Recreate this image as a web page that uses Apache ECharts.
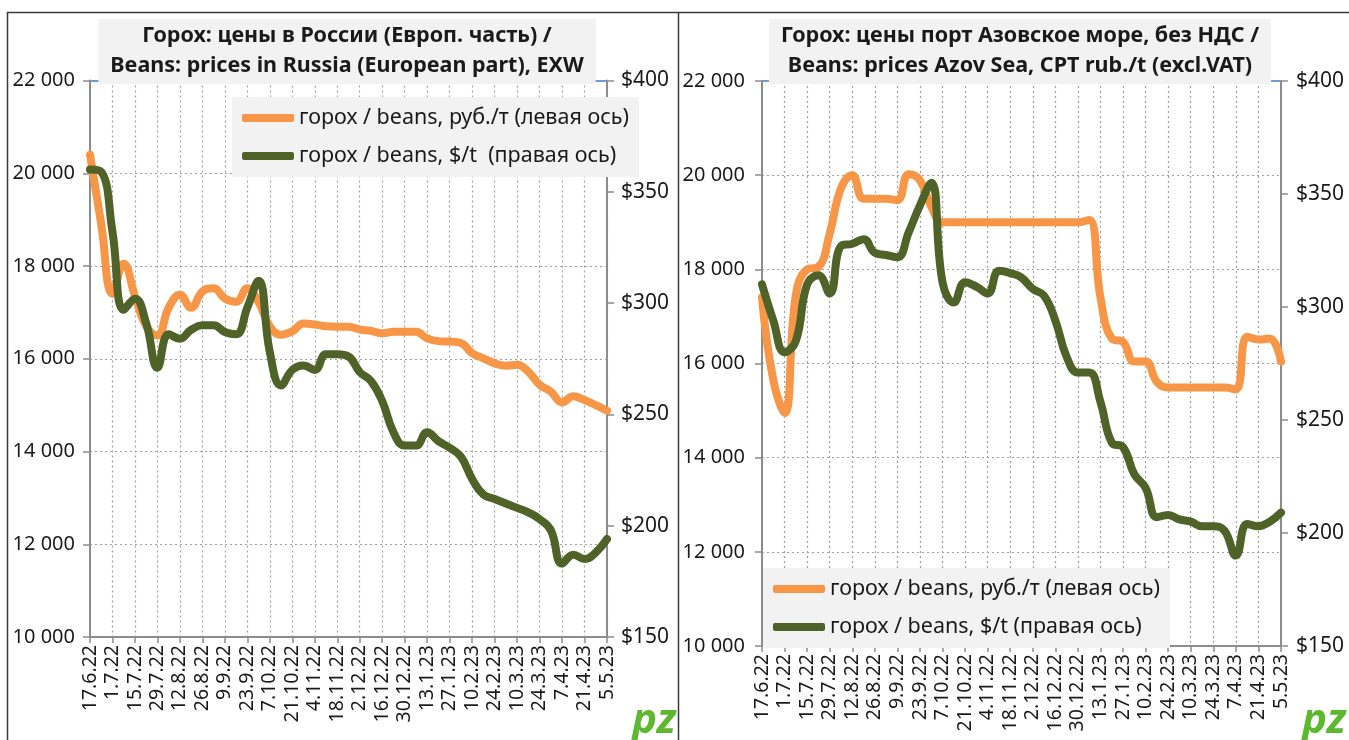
<!DOCTYPE html>
<html>
<head>
<meta charset="utf-8">
<script src="https://cdn.jsdelivr.net/npm/echarts@6/dist/echarts.min.js"></script>
<style>
html,body{margin:0;padding:0;background:#fff;}
#chart{width:1349px;height:740px;}
</style>
</head>
<body>
<div id="chart"></div>
<script>
const dates = ['17.6.22','24.6.22','1.7.22','8.7.22','15.7.22','22.7.22','29.7.22','5.8.22','12.8.22','19.8.22','26.8.22','2.9.22','9.9.22','16.9.22','23.9.22','30.9.22','7.10.22','14.10.22','21.10.22','28.10.22','4.11.22','11.11.22','18.11.22','25.11.22','2.12.22','9.12.22','16.12.22','23.12.22','30.12.22','6.1.23','13.1.23','20.1.23','27.1.23','3.2.23','10.2.23','17.2.23','24.2.23','3.3.23','10.3.23','17.3.23','24.3.23','31.3.23','7.4.23','14.4.23','21.4.23','28.4.23','5.5.23'];

const russiaRub = [20400,18900,17400,18050,17350,16700,16500,17100,17380,17100,17450,17520,17300,17230,17520,17220,16700,16520,16590,16760,16740,16700,16690,16690,16630,16600,16550,16580,16580,16580,16440,16380,16370,16340,16120,16010,15900,15850,15870,15720,15440,15290,15060,15190,15110,15000,14880];
const russiaUsd = [360,359,332,297,302,291,271,286,284,288,290,290,287,286,298,310,278,263,270,272,270,277,277,276,269,265,256,242,236,236,242,238,235,231,221,214,212,210,208,206,203,198,183,187,185,188,194];

const azovRub = [17400,15650,14950,17450,18000,18050,18760,19720,20000,19500,19500,19500,19470,20020,19890,19330,19000,19000,19000,19000,19000,19000,19000,19000,19000,19000,19000,19000,19000,19050,17400,16530,16460,16040,16040,15610,15490,15490,15490,15490,15490,15490,15450,16570,16510,16530,16040];
const azovUsd = [310,294,280,285,310,314,306,327,328,330,324,323,322,333,345,355,311,302,311,309,306,316,315,313,308,305,294,278,271,271,258,240,238,226,220,207,208,206,205,203,203,201,190,204,203,205,209];

const titleLeft = 'Горох: цены в России (Европ. часть) /\nBeans: prices in Russia (European part), EXW';
const titleRight = 'Горох: цены порт Азовское море, без НДС /\nBeans: prices Azov Sea, CPT rub./t (excl.VAT)';
const nameRub = 'горох / beans, руб./т (левая ось)';
const nameUsdLeft = 'горох / beans, $/t  (правая ось)';
const nameUsdRight = 'горох / beans, $/t (правая ось)';

const rubTicks = {min: 10000, max: 22000, interval: 2000};
const usdTicks = {min: 150, max: 400, interval: 50};

const ORANGE = '#F79646', GREEN = '#4F6228';
const FONT = 'Noto Sans';
const gridLine = {show: true, lineStyle: {color: '#a0a0a0', type: [2, 3], width: 1.2}};
const axisLineStyle = {show: true, lineStyle: {color: '#8c8c8c', width: 2}};
const fmtRub = v => String(v).replace(/\B(?=(\d{3})+(?!\d))/g, ' ');
const fmtUsd = v => '$' + v;

function xAxis(gi) {
  return {
    type: 'category', gridIndex: gi, data: dates, boundaryGap: false,
    axisLine: axisLineStyle,
    axisTick: {show: true, interval: 1, length: 6, lineStyle: {color: '#8c8c8c', width: 1.5}},
    axisLabel: {interval: 1, rotate: 90, fontSize: 19.5, color: '#1a1a1a', fontFamily: FONT, margin: 8},
    splitLine: Object.assign({interval: 1}, gridLine)
  };
}
function yRub(gi, margin) {
  return Object.assign({
    type: 'value', gridIndex: gi, position: 'left',
    axisLine: axisLineStyle,
    axisTick: {show: true, length: 7, lineStyle: {color: '#8c8c8c', width: 1.5}},
    axisLabel: {formatter: fmtRub, fontSize: 20, color: '#1a1a1a', fontFamily: FONT, margin: margin},
    splitLine: gridLine
  }, rubTicks);
}
function yUsd(gi, margin) {
  return Object.assign({
    type: 'value', gridIndex: gi, position: 'right',
    axisLine: axisLineStyle,
    axisTick: {show: true, length: 7, lineStyle: {color: '#8c8c8c', width: 1.5}},
    axisLabel: {formatter: fmtUsd, fontSize: 21, color: '#1a1a1a', fontFamily: FONT, margin: margin},
    splitLine: {show: false}
  }, usdTicks);
}
function line(name, data, color, xi, yi, top) {
  const s = {
    name: name, type: 'line', xAxisIndex: xi, yAxisIndex: yi, data: data,
    smooth: 0.45, showSymbol: false, symbol: 'none',
    lineStyle: {color: color, width: 8, cap: 'round', join: 'round'},
    itemStyle: {color: color}, z: 3
  };
  if (top) {
    s.markLine = {silent: true, symbol: 'none', label: {show: false},
      lineStyle: {color: '#6f9bd1', type: 'solid', width: 2}, data: [{yAxis: rubTicks.max}]};
  }
  return s;
}
function legend(left, top, names) {
  return {
    left: left, top: top, orient: 'vertical', data: names,
    backgroundColor: '#f2f2f2', padding: [10, 10, 10, 10], itemGap: 16,
    itemWidth: 52, itemHeight: 8, icon: 'roundRect',
    textStyle: {fontSize: 21.5, color: '#1a1a1a', fontFamily: FONT}
  };
}
function title(left, text) {
  return {
    text: text, left: left, top: 19, textAlign: 'center',
    backgroundColor: '#f2f2f2', padding: [2, 12, 3, 12],
    textStyle: {fontSize: 21.5, fontWeight: 'bold', color: '#1a1a1a', fontFamily: FONT, lineHeight: 30}
  };
}

const chart = echarts.init(document.getElementById('chart'), null, {renderer: 'canvas'});
chart.setOption({
  animation: false,
  backgroundColor: '#ffffff',
  title: [title(335, titleLeft), title(1008, titleRight)],
  legend: [legend(232, 97, [nameRub, nameUsdLeft]), legend(763, 568, [nameRub, nameUsdRight])],
  grid: [
    {left: 90, top: 80.5, width: 517, height: 556.5, containLabel: false},
    {left: 762, top: 81, width: 519, height: 565, containLabel: false}
  ],
  xAxis: [xAxis(0), xAxis(1)],
  yAxis: [yRub(0, 15), yUsd(0, 14), yRub(1, 17), yUsd(1, 15)],
  series: [
    line(nameRub, russiaRub, ORANGE, 0, 0, true),
    line(nameUsdLeft, russiaUsd, GREEN, 0, 1),
    line(nameRub, azovRub, ORANGE, 1, 2, true),
    line(nameUsdRight, azovUsd, GREEN, 1, 3)
  ],
  graphic: [
    {type: 'rect', shape: {x: 7.5, y: 12.5, width: 671, height: 740}, style: {fill: null, stroke: '#3a3a3a', lineWidth: 1.5}, silent: true},
    {type: 'line', shape: {x1: 679, y1: 12.5, x2: 1349, y2: 12.5}, style: {stroke: '#3a3a3a', lineWidth: 1.5}, silent: true},
    {type: 'text', left: 632, top: 700, style: {text: 'pz', fontSize: 42, fontWeight: 'bold', fontStyle: 'italic', fill: '#5cb82e', fontFamily: FONT}, silent: true},
    {type: 'text', left: 1302, top: 700, style: {text: 'pz', fontSize: 42, fontWeight: 'bold', fontStyle: 'italic', fill: '#5cb82e', fontFamily: FONT}, silent: true}
  ]
});
</script>
</body>
</html>
